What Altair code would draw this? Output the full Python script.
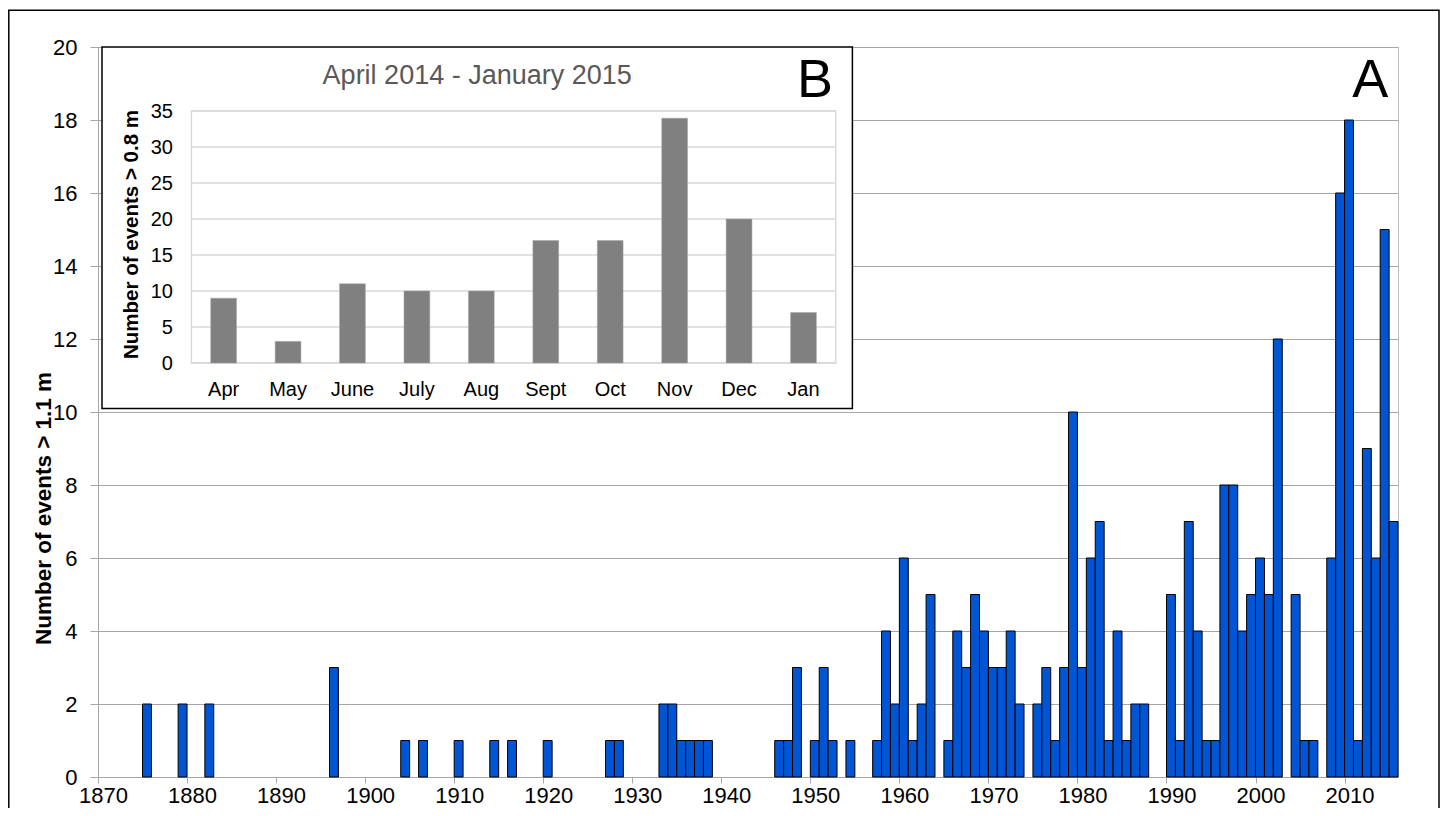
import altair as alt
import pandas as pd

# ---- Panel A: yearly number of events > 1.1 m ----
years = [1875, 1879, 1882, 1896, 1904, 1906, 1910, 1914, 1916, 1920, 1927, 1928,
         1933, 1934, 1935, 1936, 1937, 1938, 1946, 1947, 1948, 1950, 1951, 1952,
         1954, 1957, 1958, 1959, 1960, 1961, 1962, 1963, 1965, 1966, 1967, 1968,
         1969, 1970, 1971, 1972, 1973, 1975, 1976, 1977, 1978, 1979, 1980, 1981,
         1982, 1983, 1984, 1985, 1986, 1987, 1990, 1991, 1992, 1993, 1994, 1995,
         1996, 1997, 1998, 1999, 2000, 2001, 2002, 2004, 2005, 2006, 2008, 2009,
         2010, 2011, 2012, 2013, 2014, 2015]
events = [2, 2, 2, 3, 1, 1, 1, 1, 1, 1, 1, 1,
          2, 2, 1, 1, 1, 1, 1, 1, 3, 1, 3, 1,
          1, 1, 4, 2, 6, 1, 2, 5, 1, 4, 3, 5,
          4, 3, 3, 4, 2, 2, 3, 1, 3, 10, 3, 6,
          7, 1, 4, 1, 2, 2, 5, 1, 7, 4, 1, 1,
          8, 8, 4, 5, 6, 5, 12, 5, 1, 1, 6, 16,
          18, 1, 9, 6, 15, 7]
year_ticks = [1870, 1880, 1890, 1900, 1910, 1920, 1930, 1940, 1950, 1960, 1970, 1980, 1990, 2000, 2010]
main_y_ticks = [0, 2, 4, 6, 8, 10, 12, 14, 16, 18, 20]

# ---- Panel B: monthly number of events > 0.8 m ----
months = ["Apr", "May", "June", "July", "Aug", "Sept", "Oct", "Nov", "Dec", "Jan"]
monthly = [9, 3, 11, 10, 10, 17, 17, 34, 20, 7]
inset_y_ticks = [0, 5, 10, 15, 20, 25, 30, 35]

FONT = "Liberation Sans, Arial, sans-serif"
W, H = 1300, 730

main_df = pd.DataFrame({"year": years, "events": events})
inset_df = pd.DataFrame({"month": months, "events": monthly})
grid_df = pd.DataFrame({"events": inset_y_ticks})
one = pd.DataFrame({"k": [0]})

main_bars = alt.Chart(main_df).transform_calculate(
    year_end="datum.year + 1"
).mark_bar(color="#0055D4", stroke="#000000", strokeWidth=1).encode(
    x=alt.X("year:Q",
            scale=alt.Scale(domain=[1870, 2016], nice=False, zero=False),
            axis=alt.Axis(values=year_ticks, format="d", title=None, grid=False,
                          tickSize=6, tickColor="#a6a6a6", domainColor="#a6a6a6",
                          labelFontSize=22, labelPadding=2, labelOffset=5,
                          labelColor="#000000", labelFont=FONT, labelFlush=False)),
    x2="year_end:Q",
    y=alt.Y("events:Q",
            scale=alt.Scale(domain=[0, 20], nice=False),
            axis=alt.Axis(values=main_y_ticks, grid=True, gridColor="#a6a6a6",
                          tickSize=8, tickColor="#a6a6a6", domainColor="#a6a6a6",
                          labelFontSize=22, labelPadding=13, labelColor="#000000",
                          labelFont=FONT,
                          title="Number of events > 1.1 m",
                          titleFont=FONT,
                          titleFontSize=22.5, titleFontWeight="bold", titleColor="#000000",
                          titleAngle=270, titleAlign="center", titleBaseline="alphabetic",
                          titleX=-48, titleY=461)),
    y2=alt.datum(0),
)

inset_scale_x = alt.Scale(domain=months, range=[93.4, 737.7], paddingInner=0.6, paddingOuter=0.3)
inset_scale_y = alt.Scale(domain=[0, 35], range=[316, 64], nice=False)
inset_y_axis = alt.Axis(orient="left", offset=-93.4, values=inset_y_ticks, grid=False,
                        ticks=False, domain=False, labelFontSize=20, labelPadding=19,
                        labelColor="#000000", labelFont=FONT, zindex=1,
                        title="Number of events > 0.8 m", titleFont=FONT,
                        titleFontSize=20.5, titleFontWeight="bold", titleColor="#000000",
                        titleAngle=270, titleAlign="center", titleBaseline="alphabetic",
                        titleX=-54, titleY=187)

inset_box = alt.Chart(one).mark_rect(fill="#ffffff", stroke="#000000", strokeWidth=1.5).encode(
    x=alt.value(4), x2=alt.value(754.4), y=alt.value(0), y2=alt.value(361.6))

inset_frame = alt.Chart(one).mark_rect(fill="transparent", stroke="#d9d9d9", strokeWidth=1.5).encode(
    x=alt.value(93.4), x2=alt.value(737.7), y=alt.value(64), y2=alt.value(316))

inset_grid = alt.Chart(grid_df).mark_rule(color="#d9d9d9", strokeWidth=1.5).encode(
    y=alt.Y("events:Q", scale=inset_scale_y, axis=inset_y_axis),
    x=alt.value(93.4), x2=alt.value(737.7))

inset_bars = alt.Chart(inset_df).mark_bar(color="#808080", stroke="#a0a0a0", strokeWidth=0.5).encode(
    x=alt.X("month:N", sort=months, scale=inset_scale_x,
            axis=alt.Axis(orient="bottom", offset=-414, title=None, ticks=False, domain=False,
                          labelAngle=0, labelFontSize=20, labelPadding=16, labelColor="#000000",
                          labelFont=FONT, zindex=1)),
    y=alt.Y("events:Q", scale=inset_scale_y, axis=inset_y_axis),
)

inset_title = alt.Chart(one).mark_text(
    text="April 2014 - January 2015", font=FONT, fontSize=27, color="#595959",
    align="center", baseline="alphabetic").encode(x=alt.value(379.2), y=alt.value(36.6))

label_b = alt.Chart(one).mark_text(
    text="B", font=FONT, fontSize=54, color="#000000",
    align="center", baseline="alphabetic").encode(x=alt.value(717), y=alt.value(50))

label_a = alt.Chart(one).mark_text(
    text="A", font=FONT, fontSize=54, color="#000000",
    align="center", baseline="alphabetic").encode(x=alt.value(1272.2), y=alt.value(50))

outer_frame = alt.Chart(one).mark_rect(fill="transparent", stroke="#000000", strokeWidth=1.5).encode(
    x=alt.value(-89.2), x2=alt.value(1341), y=alt.value(-36.7), y2=alt.value(820))

main_layer = alt.layer(main_bars)
inset_layer = alt.layer(inset_box, inset_frame, inset_grid, inset_bars, inset_title, label_b)

chart = alt.layer(main_layer, inset_layer, label_a, outer_frame).resolve_scale(
    x="independent", y="independent"
).properties(
    width=W, height=H,
    autosize=alt.AutoSizeParams(type="none"),
    padding={"left": 90, "top": 39, "right": 42, "bottom": 31},
    background="#ffffff",
).configure_view(stroke="#bfbfbf")

chart.save("out.html", embed_options={"renderer": "svg", "actions": False})
